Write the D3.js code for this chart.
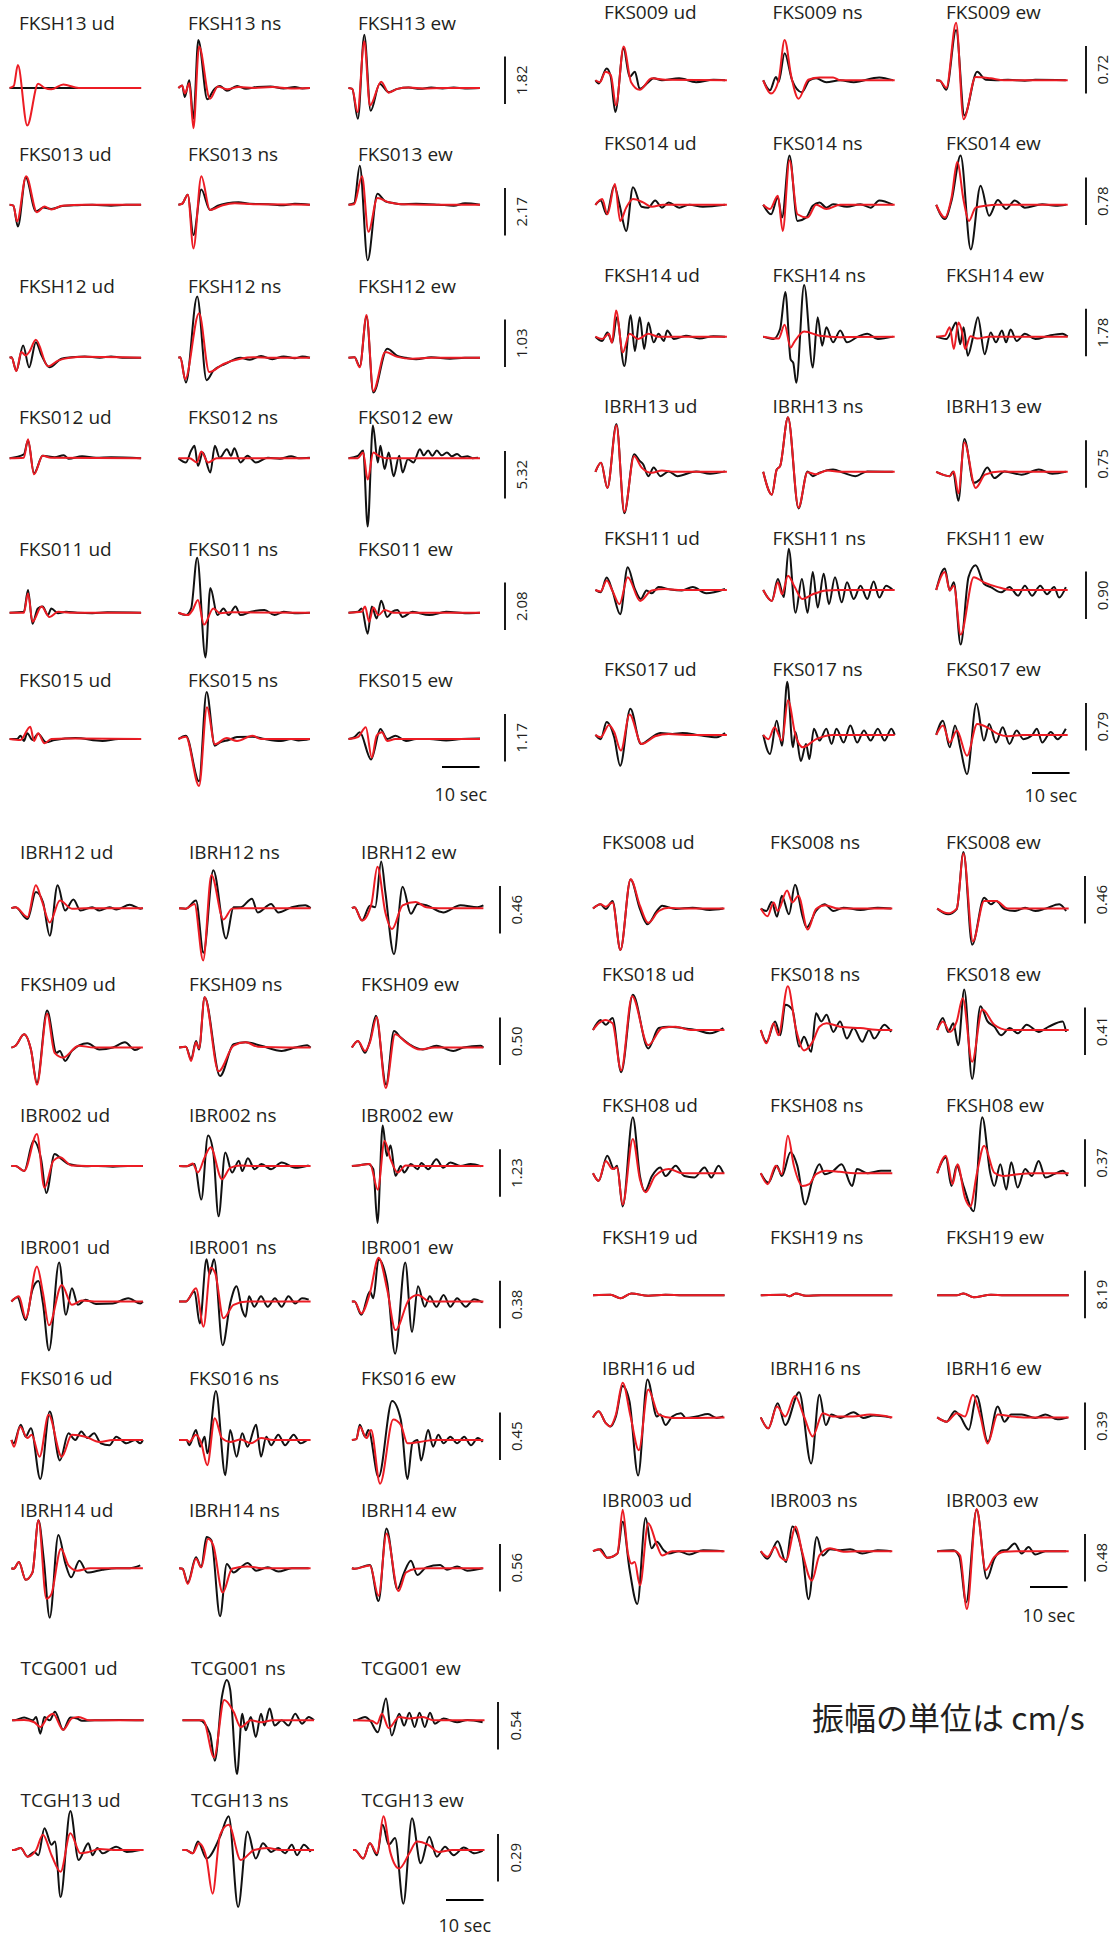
<!DOCTYPE html>
<html><head><meta charset="utf-8">
<script src="https://cdn.jsdelivr.net/npm/d3@7"></script>
<style>body{margin:0;background:#fff}svg{display:block}</style>
</head><body>
<svg id="chart" width="1117" height="1936"></svg>
<script>
// ---- data ----
const components = ["ud", "ns", "ew"];
const stations = ["FKSH13","FKS013","FKSH12","FKS012","FKS011","FKS015",
  "IBRH12","FKSH09","IBR002","IBR001","FKS016","IBRH14",
  "TCG001","TCGH13",
  "FKS009","FKS014","FKSH14","IBRH13","FKSH11","FKS017",
  "FKS008","FKS018","FKSH08","FKSH19","IBRH16","IBR003"];
// amplitude of the vertical scale bar for each station (cm/s)
const amplitudes = [1.82,2.17,1.03,5.32,2.08,1.17,
  0.46,0.50,1.23,0.38,0.45,0.56,
  0.54,0.29,
  0.72,0.78,1.78,0.75,0.90,0.79,
  0.46,0.41,0.37,8.19,0.39,0.48];
const timeBarSec = 10;
const traceSec = 35;
// waveforms: flat [t (s), v (tenths of the scale-bar amplitude), ...], per station [ud, ns, ew]
const observed = [
 [[0,0,35,0],
  [0,0,1,0.5,1.7,-1.9,2.9,1.6,4,-6.5,5.3,10.1,7.7,-2.4,9.5,-0.3,11.1,0.4,12.9,-0.6,15.6,0.4,18,-0.2,21,0.2,24.5,0.3,28,-0.1,31,0.2,33,-0.1,35,0],
  [0,0,1,-0.2,2.5,-6.5,4.2,11.2,5.9,-4.8,8.3,0.9,10.7,-0.9,13,-0.2,16,0.1,19,-0.2,22,0.1,25,-0.1,28,0.1,31,-0.1,35,0]],
 [[0,0,1,-0.2,2.2,-4.6,4.3,5.7,7,-1.4,9,-0.6,11.1,-0.9,14,-0.3,18,-0.1,22,0,27,-0.2,31,0,35,0],
  [0,0,1,0.2,2.5,2.1,4,-6.4,6.1,3.2,8.4,-1.1,10.5,-0.2,13,0.3,16,0.5,19,0.2,24,0.1,28,-0.1,31,0.2,35,0],
  [0,0,1.5,0.3,3,8.2,5.1,-11.7,7.7,2.3,9.8,0.7,11.6,0.4,14,0.1,18,0.2,24,0,28,-0.2,31,0.3,35,0]],
 [[0,0,0.5,0.1,1.8,-2.7,3.6,2.6,5.2,-2,7,3.3,8.5,0.5,10.6,-2,13.8,-0.2,16.5,0.1,20,0.3,24,0,27,0.3,30,0,35,0],
  [0,0,0.5,0.1,2,-5.2,5,12.9,7.5,-4.7,9.3,-2.7,12.5,-1.3,16.5,0,19,-0.4,22,0.4,25,-0.3,28,0.3,31,-0.1,33,0.3,35,0],
  [0,0,1.6,0.1,3,-1.8,4.8,8.7,6.6,-7.3,10.3,1.9,13,0.4,15.3,0,18,-0.3,22,0.1,27,-0.2,31,0,35,0]],
 [[0,0,3.8,0.8,4.9,3.7,6.5,-3.2,8.8,0.5,12,0.2,14.4,0.6,15.7,-0.1,19.3,0.4,23,0.1,27,0.2,35,0],
  [0,0,2,-0.9,3.4,1.6,4.3,2.6,5.2,-1.6,6.5,1.2,8.5,-3,9.7,2.6,11,0.1,12.9,1.9,14,0.5,14.9,2.1,16.5,-0.9,18.4,0.5,20.6,-0.9,23.8,0.1,27,-0.1,30,0.4,32,0,35,0.1],
  [0,0,2.5,0.5,3.9,1.6,5.1,-14.4,6.5,6.9,7.8,-0.9,8.5,2.6,9.6,-2.3,10.7,1.2,12,-3.8,13.5,0.5,14.4,-3,15.8,-0.2,17.3,-0.9,19,1.9,20,0.6,21.2,1.6,22.3,0.5,23.5,1.6,24.8,0.6,26.2,1.2,27.5,0.4,28.9,0.9,30.2,0.2,31.6,0.4,33,0,34.5,0.1]],
 [[0,0,3.8,0.2,4.9,4.8,6.1,-2.3,7.5,0.9,8.8,1.3,10.2,-0.5,11.1,0.9,12.9,-0.1,15,0.2,18,0,22,-0.1,26,0.1,35,0],
  [0,0,2,-0.5,3.4,0.9,5,11.6,7.2,-9.4,8.5,5.2,10.4,-0.5,12,0.9,13.4,-0.5,15.2,1.3,16.5,-0.5,19.3,0.2,22.9,0.6,25.6,-0.5,28,0.2,31,-0.1,35,0],
  [0,0,2.5,0.2,3.5,0.9,5.1,-4.4,6.2,1.3,7.5,-1.2,8.7,2.5,10.3,-0.9,11.6,0.2,13,0.6,14.4,-0.9,17,0.2,21.5,-0.5,26,0.2,31.5,-0.1,35,0]],
 [[0,0,2,0,2.9,0.7,3.8,-0.4,4.7,1.2,6.1,-0.2,7.6,1.1,9.7,-0.7,12,-0.2,17.5,0.2,24.7,-0.4,29,0,35,0],
  [0,0,2,0.7,5.5,-8.9,7.5,9.9,9.7,-1.4,11.1,-0.7,13.4,-0.2,15.6,0.4,19.7,0.5,23,0,27.3,-0.4,30,0,32,-0.3,35,0],
  [0,0,1.6,0.4,3,1.4,6,-4.3,8.5,2.1,10.3,0,12.5,0.7,15.3,-0.4,18,0,21.6,0,26,-0.3,30,0,35,0.1]],
 [[0,0,1.1,0.2,4.3,-2.3,6.5,3.4,8.4,1.3,10.2,-5.8,12.3,4.8,14.3,-0.5,16.5,1.8,18.4,-0.5,21.5,0.2,23.4,-0.5,26.1,0.2,28,-0.3,31.5,0.7,34.3,-0.1,35,0],
  [0,0,1.8,-0.1,4.5,1.6,6.5,-9.4,9.1,8,12.5,-6.4,14.5,0.2,16.4,0.2,19.4,2,20.9,-0.9,24.5,0.9,26.4,-0.9,30,0.2,33.6,0.6,35,0],
  [0,0,0.7,0.2,2.7,-2.6,4.8,0.5,6.2,0.2,7.8,9.8,8.9,3.4,11.2,-9.7,13.5,4.5,15.7,-1.2,17.5,0.9,19.8,0.6,24.3,-0.9,28.9,0.6,33.4,0.2,35,0.6]],
 [[0,0,1.1,0.4,3.4,2.8,5.2,-0.4,6.8,-7.4,9.5,7.8,12,-1.1,12.9,-0.7,14.3,-2.8,16.1,-0.7,20.2,0.9,23.4,-0.4,27,0,30.2,1.1,32.9,-0.5,34.3,0],
  [0,0,1.8,0.2,3.2,-2.5,4.5,1.4,5.3,-0.4,6.8,10.6,10.9,-6,14.5,0.7,17.7,1.1,21.8,0.4,27.3,-0.7,30.9,0,34.1,0.5,35,0],
  [0,0,1.6,1.4,3.5,-1.1,4.8,1.4,6.4,6.7,9.1,-7.8,11.2,3.5,13,2.1,15.3,0.7,18.9,-0.4,22.5,0.4,27,-0.7,29.7,0,34.3,0.4,35,0]],
 [[0,0,1.1,0,3.4,-1.1,5.9,5.3,7.9,1.4,9.3,-5.7,11.5,2.5,13.4,1.4,15.2,0.4,19.7,-0.1,23,0,27,-0.2,31,0,35,0],
  [0,0,2,-0.1,4.1,0.4,5.9,-7.1,7.7,6.4,9.1,2.8,10.5,-10.6,12.3,2.8,14.1,-1.4,15.9,1.1,16.8,-1.1,18.3,1.6,20.1,-0.7,21.9,0.4,24.5,-0.7,27.3,0.7,30.9,-0.4,34.5,0.1],
  [0,0,1.6,0.1,4.3,0.4,5.7,-0.7,6.8,-12,8.2,8.5,9.3,2.1,10.3,4.3,11.6,-2.1,13,0,13.9,-1.4,15.7,0.4,17.5,-0.7,18.5,0.6,20.3,-0.7,22.5,1.4,24.3,-0.4,26.2,0.7,28.9,0,31.6,0.4,34.4,-0.1]],
 [[0,0,1.6,0.9,3.8,-3.9,5.6,2.5,7.2,4.3,8.4,-0.4,10,-10.3,12.7,8.2,14.5,-2.8,16.1,2.8,17.7,-0.7,19.7,0.4,22.5,-0.5,27,-0.4,31.1,0.7,34.3,-0.4,35,0],
  [0,0,1.8,0,4.1,2.1,5.5,-4.6,7.3,8.9,8.1,5.7,9.3,8.9,11.6,-9.2,13.6,-0.4,15.3,3.2,16.8,-1.8,17.7,-3.2,18.6,1.1,20,-1.1,21.8,1.1,23.6,-1.1,25.5,0.7,27.3,-1.1,29.1,1.1,30.9,-0.4,32.7,0.7,34.5,0.4],
  [0,0,0.7,0,2.5,-2.8,4.8,2.1,5.7,0.7,7.1,8.9,9.4,3.9,11.5,-11,14.2,8.2,16,-6.4,17.6,3.2,19.4,-1.1,20.7,1.1,22.5,-1.1,24.4,1.4,26.2,-1.1,28,0.7,30.3,-1.1,32.5,0.5,34.8,-0.2]],
 [[0,0,0.6,-0.7,2.5,3.2,3.8,0.7,5.2,2.5,7.7,-8.2,10.2,6,12.9,-4.3,15.2,1.4,17,0,18.6,1.8,20.2,0.4,22,1.4,23.8,-0.7,26.1,-1.1,27.9,0.7,30.6,-0.7,32.9,0,34.3,-0.7,35,0],
  [0,0,2,0,2.7,-1.1,4.5,2.1,5.6,-1.4,6.8,0.7,7.5,-2.8,9.8,10.3,12.3,-7.4,13.6,2.1,15.3,-3.5,16.8,1.4,18.2,-1.4,20.5,3.2,21.8,-3.5,23.2,0.7,24.5,-1.1,26.4,1.1,28.2,-1.1,30.5,1.1,32.3,-0.7,34.1,0],
  [0,0,1.2,0.2,2.1,3.2,3.5,0.7,4.4,2.1,7.1,-7.8,10.7,8.2,13,4.3,14.8,-8.2,16.1,-0.7,17.5,0,18.4,-4.3,20.3,2.1,21.6,-1.4,23,1.1,24.4,-0.7,26.2,0.7,28,-0.7,29.9,0.7,31.7,-1.1,33.5,0.4,34.8,-0.4]],
 [[0,0,0.6,-0.1,2,1.3,3.8,-2.4,5.6,-0.9,7.2,10.1,8.6,2,10.2,-10.4,12.5,7,14.4,0.9,15.9,-1.9,18.1,1.6,20.2,-0.9,24.3,-0.3,28,0,31.5,0,34.3,0.6],
  [0,0,0.9,-0.1,2.3,-3,4.5,2.3,5.9,0.2,7.3,6.6,8.6,5.9,10.9,-10.1,12.7,0.9,14.5,-0.9,16.4,0.2,18.2,1.1,20.5,-0.5,23.6,0.2,26.4,-0.7,30,0,34.5,0],
  [0,0,0.7,-0.1,4.8,0.7,7.1,-6.9,9.2,8.4,12.1,-4.4,13.9,-0.9,15.7,1.6,17.4,-1.4,19.8,0.2,23.5,0.7,25.3,-0.3,28,0.4,30.7,-0.5,34.8,0]],
 [[0,0,0.5,0,3.2,0.6,5.5,0,6.4,0.7,7.5,-2.8,8.6,0.7,10,0,11.4,1.8,13.6,-2,15.5,0.6,17.3,0.4,18.6,-0.1,22,0,28.6,0.1,35,0],
  [0,0,1,0,4.5,0,7.3,-2.8,8.6,-8.5,10.5,5,11.8,8.5,12.7,6.4,14.5,-11.3,15.9,1.4,16.8,-2.1,18.2,0.7,19.5,-3.5,20.9,1.4,21.8,-1.1,23.2,2.5,24.5,-1.1,26.4,0,28.2,-1.1,30,1.4,31.8,-0.7,33.6,0.7,35,0],
  [0,0,0.5,0,3.2,0.7,4.5,0,6.6,-2.5,8.8,4.6,10.3,-3.2,12.3,1.4,13.6,-1.1,15,1.6,16.4,-1.4,17.7,1.6,19.1,-1.4,20.5,1.6,21.8,-0.7,24.1,0.4,27.7,-0.4,30.5,0.1,34.5,-0.4]],
 [[0,0,0.5,0,2.3,0.4,4.1,-1.4,5.9,-0.4,7,-1.1,8.6,4.6,10.5,1.1,11.4,1.8,12.9,-9.9,15.5,8.2,17.7,-2.1,20.3,1.4,21.4,-1.1,22.7,0.4,24.1,-0.7,27.7,0.7,30.5,-0.4,34.1,0],
  [0,0,0.9,0,2.7,-0.7,4.1,1.8,6.4,-1.8,10,2.8,12.3,7.1,14.8,-12,17.3,3.9,19.5,-1.8,21.4,1.4,23.6,-0.4,25.5,0.4,27.3,-0.7,29.1,1.1,30.5,-1.1,32.3,1.1,34.1,-0.4],
  [0,0,0.5,0,2.7,-1.8,4.5,1.4,6.4,-1.1,7.9,5.3,9.5,1.1,11.2,2.5,13.4,-11.3,15.7,6.7,18,-2.8,20.3,2.8,22.3,-1.4,24.5,0.7,26.8,-1.1,29.5,0.5,32.3,-0.7,34.5,-0.2]],
 [[0,0,0.9,-0.7,3,2.5,4.1,0.7,5.3,-6.7,7.5,6.7,9.1,0.7,10.5,1.8,11.8,-1.8,14.1,-0.4,15.5,0.4,17.7,0,22.3,0.4,26.8,-0.4,31.4,0.1,34.5,0],
  [0,0,1.8,-2.1,3.4,0.7,4.1,-0.4,5.7,5.7,7.7,0,10.3,-2.5,12.3,0,14.1,0.4,16.8,-0.4,20.5,0,24.1,-0.4,30.9,0.6,34.5,0],
  [0,0,1,-0.1,2.7,-2,5.3,10.6,7.5,-7.4,10.9,1.8,13.2,0.1,15.9,0,19.1,0.1,23.6,-0.1,26.4,0.1,34.5,0]],
 [[0,0,1.4,0.9,3,-2,5,4,6.4,0.1,8.2,-5.5,10,3.7,12.3,-0.4,14.1,-0.6,15.9,0.9,17.7,-0.6,19.5,0.5,22.3,-0.6,25,0,28.6,-0.4,34.5,0],
  [0,0,2.1,-2,3.9,1.6,5,-2.7,7,10.4,9.1,-3.4,11.4,-2.7,13.2,-0.2,15,0.5,16.8,-0.6,18.6,0.1,22.3,-0.4,25.9,0.1,28.6,-0.6,30.9,0.9,34.5,0],
  [0,0,2.3,-3,4.1,0.9,6.5,10.4,9.2,-9.4,11.8,4,14.1,-2.3,16.4,1,18.6,-0.9,20.9,0.9,23.6,-0.6,28.2,0.1,31.8,-0.2,34.5,0]],
 [[0,0,1.8,-0.9,3.2,0.9,4.5,-1.2,5.7,4.1,7.7,-6.2,9.4,4.5,10.5,-3,11.8,4.1,13,-2.6,14.1,3,15.5,-1.2,16.8,0.6,18.2,-0.9,19.1,1.3,20.9,-0.5,24.1,0.2,27.7,-0.4,31.4,0.1,34.5,0],
  [0,0,2.7,-0.5,4.5,1.6,5.9,9.4,7.3,-4.8,8,-5.5,8.8,-9.7,10.9,10.9,13.2,-6.5,14.5,4.1,15.7,-1.9,16.8,2,18.6,-1.2,20.5,1.3,22.3,-1.2,25,-0.1,27.7,0.6,30.5,-0.5,34.5,0],
  [0,0,2.7,-0.5,4.1,1.3,5.3,3,6.4,-1.6,7.3,2,8.4,-4,9.8,-0.1,11.1,4.1,12.9,-3.7,14.5,0.9,15.9,-1.2,17.5,1.3,18.6,-1.2,19.8,1.5,21.4,-0.9,23.6,0.6,26.4,-0.5,30,0.2,33.6,0.6,35,0]],
 [[0,0,1.5,1.9,3.2,-3.4,5.6,10.1,7.7,-8.7,10.3,3.7,11.8,2.3,12.7,1.6,14.1,-0.9,15.5,0.9,17.3,-0.9,19.5,0.1,21.8,-0.9,26.8,0.1,30.5,-0.4,34.5,0.1],
  [0,0,2.3,-4.8,3.6,0.5,4.5,1.2,6.6,11.5,9.4,-7.7,11.8,0.1,13.2,-0.9,15,-0.2,18.6,0.5,21.4,-0.2,24.5,-0.9,27.7,0.1,34.5,0],
  [0,0,3.6,-0.9,4.5,0.1,5.9,-6.1,7.5,6.9,10,-2.3,11.6,-1.6,13.6,0.9,15.5,-1.3,18.2,0.1,22.7,-0.6,27.3,0.5,30.9,-0.4,34.5,0]],
 [[0,0,1.4,-0.5,3,2.6,4.5,-0.1,6.6,-5.1,8.6,4.8,10.5,0.2,12.1,-1.9,13.6,-0.1,15,-0.7,16.8,0.6,20,0.1,23,-0.1,25.9,0.6,29.5,-0.7,34.5,0.2],
  [0,0,2.3,-2.3,3.9,2.3,5.5,-1.5,6.8,8.7,8.6,-4.8,10.3,2.3,11.8,-4.8,13.2,3.8,14.5,-3.7,16.1,3.4,17.5,-3,19.1,2.7,20.9,-2.6,22.3,1.6,24.1,-1.9,25.9,0.9,27.7,-1.9,29.4,1.8,30.9,-1.6,32.7,0.9,34.5,0],
  [0,0,2.3,4.5,3.6,-0.1,4.7,1.6,6.5,-11.5,8.6,2.7,10.5,5.2,12.7,1.3,14.5,0.6,17.3,-0.5,19.5,0.6,21.8,-1.2,23.6,0.9,25.5,-1.2,27.7,0.9,29.5,-0.9,31.4,0.6,32.7,-1.6,34.5,0.6]],
 [[0,0,1.4,-0.9,3,2.7,5,-0.5,6.6,-6.5,9.3,5.5,12.1,-1.9,15,-0.5,17.3,0.4,20.5,0.2,23.2,0.4,27.7,-0.1,32.3,-0.5,34.5,0.4],
  [0,0,1.8,-4,3.6,3,5,-2.3,6.4,11.2,7.9,-2.6,8.6,0.6,10,-5.5,11.4,-1.9,12.3,-5.1,13.5,1.3,15,-1.2,16.8,1.3,18.2,-1.9,19.5,1.3,21.4,-1.6,23.2,2,25,-1.6,26.8,0.9,28.6,-1.2,30.5,1.3,32.3,-1.2,34.1,1.3,35,0],
  [0,0,1.8,3,3.6,-2.6,5,2,6.5,-3,8.2,-8.3,10.7,6.6,12.7,-1.2,14.1,2.3,15.9,-1.6,17.7,1.6,19.5,-1.9,21.4,0.9,23.2,-0.9,25.5,-0.1,26.8,1.3,28.2,-1.6,30.5,0.6,32.3,-0.9,34.5,1.3]],
 [[0,0,2,0.9,3.4,-0.1,5.2,1.6,7.3,-8.7,10,6.1,12.5,-0.1,14.5,-3.3,17,-0.5,18.4,0.6,22,-0.1,26.5,0.2,31.1,-0.3,34.7,0],
  [0,0,1.5,-0.5,2.9,1.4,4.3,-1.7,5.6,2.7,7.5,-1.2,9.1,5,11.1,-1.6,12.2,-4,14.7,-0.5,17,0.9,19.3,-0.5,22,0.2,26.5,-0.3,31.1,0.2,34.7,0],
  [0,0,2.9,-1.2,5.2,-0.1,7,11.9,9.3,-7.6,12.5,2.3,14.3,0.9,15.7,1.6,17.9,-0.1,20.7,-0.5,23.4,0.2,26.1,-0.5,28.8,0,32.5,0.9,34.3,-0.5]],
 [[0,0,2,2.1,3.4,1.1,5.2,2.5,7.5,-8.9,10.6,7.4,14.7,-3.9,17.5,0.4,20.2,0.7,23.8,0.4,27.5,0,31.1,-0.7,34.7,0.4],
  [0,0,1.5,-2.5,3.8,1.8,5.2,-1.1,6.5,5.3,8.4,4.3,10.2,-3.5,11.5,-1.4,13.4,-4.6,14.7,3.5,16.1,1.8,17.5,3.2,19.3,-0.4,21.1,1.8,22.9,-1.8,24.7,0.4,27,-2.5,28.8,0,30.2,-1.8,32.9,1.1,34.7,-0.4],
  [0,0,1.5,2.5,2.9,-0.4,4.3,1.4,5.6,-3.2,7.2,8.5,9.3,-10.3,11.5,5,13.4,1.8,15.2,0.7,17,-1.1,19.3,0.4,21.5,-0.7,23.8,1.1,27,-0.4,29.7,0.7,33.4,1.8,34.3,-0.4]],
 [[0,0,1.5,-1.6,3.8,3.7,5.6,0.9,6.4,1.6,7.9,-7,10.6,11.8,12.5,-0.6,13.8,-3.8,15.7,-0.6,17.9,1.2,19.3,-0.6,22,1.6,24.3,-0.6,27,-0.9,29.7,1.2,31.5,-0.9,33.4,1.6,34.7,0],
  [0,0,2,-2,4.3,1.6,5.6,-0.6,7.9,4.4,9.7,1.6,11.8,-6.6,13.8,-1.3,15.6,1.9,17,-0.2,19.3,0.5,21.5,1.9,24.3,-2.7,25.6,0.9,28.4,0,32,0.5,34.7,0.5],
  [0,0,2.3,3.3,3.8,-2.7,5.2,1.6,7,-2.7,9.7,-8,12,11.8,14.1,0.1,15.2,-2.7,16.8,1.9,18.4,-3.4,19.7,2.3,21.4,-3,23.4,0.9,25.2,-0.6,27,2.6,28.8,-0.9,31.1,-0.2,33.4,0.5,34.7,-0.6]],
 [[0,0,4.7,0.1,7.3,-0.6,10.2,0.4,14.7,-0.1,19.3,0.1,24,0,35,0],
  [0,0,6.5,0.1,7.6,-0.2,9.3,0.4,12,-0.1,16,0,35,0],
  [0,0,5.2,0,7,0.4,9.7,-0.4,14.3,0.1,18,0,35,0]],
 [[0,0,1.5,1.3,3.4,-1.2,4.7,-1.9,6.1,0.2,7.9,6.6,9.7,3.4,12,-12.2,14.5,8,17,0.2,17.9,0.6,19.3,-1.6,21.1,0.2,23.4,0.9,24.7,-0.1,27.5,0.2,30.6,0.7,32.9,-0.1,34.7,0.2],
  [0,0,2,-2.3,4.5,3,6.5,-1.6,10.2,5.3,13.4,-9.7,15.6,4.8,17.3,-1.6,18.8,0.6,21.1,-0.1,24.7,1.1,27.3,-0.1,30,0.4,34.7,0],
  [0,0,2.5,-0.9,4.7,1.3,6.1,0.2,8.4,-2.6,10.5,4.5,13.5,-5.1,16.1,2.3,17.9,-0.9,19.7,0.6,22.5,0.6,26.1,-0.1,28.8,0.6,32,-0.4,34.7,0]],
 [[0,0,2,0.4,3.8,-1.4,6.5,-0.5,7.9,6.2,9.7,-3.7,11.8,-11.1,14,7,15.6,0.6,17,2,18.8,0.2,20.2,-0.5,22.9,0,25.6,-0.7,29.3,0.2,34.7,0],
  [0,0,1.8,-1.6,4.5,2.1,6.7,-2.3,8.4,5.2,9.8,3.4,11.1,-0.9,12.7,-10.1,14.9,3,16.5,-0.9,18.4,0.4,21.1,0.2,23.8,0.4,27,-0.5,31.1,0.2,34.7,0],
  [0,0,4.3,0.2,5.9,-1.2,7.7,-10.8,10.5,8.7,13.2,-5.8,15.2,-1.6,17.5,0.2,18.4,0.2,20.6,1.6,22.5,-0.5,24.3,0.9,26.1,-0.7,28.8,0,34.3,0]]
];
const synthetic = [
 [[0,0,1.1,0.4,2.2,4.8,4.7,-7.9,7.6,0.9,9.3,0,11.1,-0.3,14.3,0.7,18.4,0,35,0],
  [0,0,1,0.5,1.7,-1.2,2.9,1,4,-8.5,5.5,8.7,8.4,-2.3,10.5,0.3,13,-0.3,16,0.2,20,0,25,0.2,30,-0.1,35,0],
  [0,0,1,-0.2,2.4,-5.1,4.2,9.8,5.7,-3.7,8.7,1.3,10.7,-1,13,-0.2,16,0.1,20,-0.1,25,0,35,0]],
 [[0,0,1,-0.2,2,-3.5,4.4,6,7.3,-1.6,9.3,-0.4,11.1,-1,14,-0.2,20,0,35,0],
  [0,0,1,0.2,2.5,2.1,4,-9.2,6.1,6,8.4,-1.1,11.8,-0.1,15,0.3,20,0.1,35,0],
  [0,0,1.5,0.1,3.6,6,5.3,-5.7,7.7,1.4,10.7,0.5,14,0.1,20,0,35,0]],
 [[0,0,0.5,0.1,1.8,-2.8,3.1,1.2,4.3,0.5,5.2,1.2,7,3.8,10.2,-1.8,12.9,-0.6,16,0,20,0.2,35,0],
  [0,0,0.5,0.1,1.8,-4.5,5.5,9.4,8.2,-3,12,-1.3,16.5,-0.2,20,0.1,25,0,35,0],
  [0,0,1.6,0.1,3,-2,4.8,9,6.6,-7,9.8,1.2,13,0.2,17,-0.2,22,0,35,0]],
 [[0,0,3.8,0.1,4.9,4,6.5,-3.4,8.8,0.5,11,0.1,35,0],
  [0,0,3,0,4.9,-0.9,6.1,1.4,7.9,-0.9,10.2,0,35,0],
  [0,0,2.5,0,3.9,1.2,5.1,-4.5,6.6,1.2,8,0.5,10,0,35,0]],
 [[0,0,3.8,0,4.9,4.1,6.1,-1.9,8.5,1.3,10.6,-0.9,12.9,0.2,16,0,35,0],
  [0,0,2.5,-0.5,3.8,0.6,5.2,2.7,6.8,-2.5,9.3,0.9,11.1,-0.1,14,0.1,35,0],
  [0,0,3.5,0.2,4.4,1.3,5.5,-1.9,6.6,1.1,8,-0.5,9.6,0.6,12,0,35,0]],
 [[0,0,2.9,-0.2,5.5,2.6,6.5,-0.4,7.6,1.2,9.3,-0.9,11.1,0,15,0.1,35,0],
  [0,0,2,0.5,5.5,-9.9,7.6,6.7,9.7,-1.1,12.9,0.2,15.6,-0.4,19.7,0.7,22,0,35,0],
  [0,0,2.5,0.4,4.6,2.5,6.2,-3.9,7.5,0.7,8.9,1.4,10.3,-0.4,12.5,0,35,0]],
 [[0,0,1.1,0.2,4.3,-1.9,6.5,4.8,8.1,1.6,10.2,-3,12.9,1.6,16.1,-0.1,19.7,0,35,0],
  [0,0,1.8,-0.1,4.1,0.9,6.4,-11,8.6,7,11.8,-2.4,14.1,-0.1,16.4,0,35,0],
  [0,0,0.7,0.2,2.7,-2.6,5.2,0.9,6.8,8.7,8.9,-0.9,10.7,-4.4,13.5,0.6,17,1.3,19.8,0.2,23,0,35,0]],
 [[0,0,1.1,0.4,3.4,2.8,5.2,-0.4,6.8,-7.8,9.5,7.1,11.5,-1.1,13.8,-2.1,17.9,0.4,22,0,35,0],
  [0,0,1.8,0.2,3.2,-2.8,4.5,1.1,5.3,-0.2,6.8,10.6,10.5,-5,14.5,0.4,17.7,1.1,21,0.2,35,0],
  [0,0,1.6,1.4,3.5,-0.7,4.8,1.1,6.6,6.4,9,-8.5,11.5,2.8,14.4,1.1,18,-0.4,22,0,35,0]],
 [[0,0,1.1,0,3.4,-1.1,6.8,6.7,8.8,-4.6,11.2,1.1,12.9,1.8,16,0.1,20,0,35,0],
  [0,0,2,-0.1,3.6,0.5,5,-1.4,6.8,1.8,8.4,3.9,11.4,-2.8,13.6,-0.4,16.4,0.1,20,0,35,0],
  [0,0,1.6,0.1,4.8,0.4,6.9,-5,8.7,5.3,10.3,1.4,12.2,-1.4,14.3,0.1,18,0,35,0]],
 [[0,0,2,1.1,3.8,-3.5,6.8,7.4,8.4,1.8,10,-5,13.4,3.5,16.1,-0.7,18.8,0.2,22,0,35,0],
  [0,0,1.8,0,4.5,2.8,6.5,-5.3,8.4,7.1,9.6,6,11.8,-3.5,14.5,-0.7,18.2,0,35,0],
  [0,0,0.7,0,2.5,-2.5,4.8,1.8,7.1,9.2,9.4,2.5,11.6,-6,15.2,0.4,17.6,1.4,20.7,0,24,0,35,0]],
 [[0,0,0.7,-1.4,2.3,2.8,4.3,0.4,5.4,1.1,7.5,-3.5,9.9,5.3,13.4,-3.5,16.1,1.1,19.7,0.7,23.4,-0.4,27,0,35,0],
  [0,0,2,0,2.7,-0.4,4.5,1.1,5.9,-0.7,7.5,-5.3,9.5,4.6,11.4,0.4,13.6,-0.4,16.4,0.1,19.1,-0.7,21.8,0.4,25,0,35,0],
  [0,0,1.2,0.2,2.1,2.8,3.9,0.4,5.1,2.1,7.5,-9.2,11,4.3,13,3.2,14.8,-0.7,18,-0.4,22,0,35,0]],
 [[0,0,0.6,-0.1,2,1.3,3.8,-2.4,5.6,-0.9,7.2,10.1,9.3,-6.4,10.6,-5.5,13.2,4.1,15.2,0.6,17.5,-0.5,21,0,35,0],
  [0,0,0.9,-0.1,2.3,-3.3,4.5,2,5.9,0.2,7.7,6.2,9.1,4.8,11.6,-5.1,14.1,-0.1,18.2,0.4,22,0,35,0],
  [0,0,0.7,-0.1,4.8,0.6,7.1,-5.8,9.2,7.3,12.4,-4.8,14.4,-0.9,17.1,-0.1,20,0,35,0]],
 [[0,0,3.2,0.1,5.9,-0.4,7.5,-1.4,9.5,0.7,10.9,1.4,13.6,-2,15.9,0.4,17.7,0.7,20.5,0,35,0],
  [0,0,1,0,5.5,0,8.4,-7.8,11.1,4.3,13.6,1.8,15.5,-1.4,18.2,0,20.9,-0.4,24,0,35,0],
  [0,0,5,-0.1,6.4,-0.7,7.7,1.4,9.5,-1.6,12.3,0.7,15,0.4,18.6,0.7,21.4,0,35,0]],
 [[0,0,0.5,0,2.3,0.4,4.1,-1.4,6.4,0,8.2,3.2,10.5,-1.1,12.9,-4.6,15.5,3.5,18.2,-0.7,20.5,-0.4,23.2,0.2,27,0,35,0],
  [0,0,0.9,0,2.7,-0.7,4.4,1.4,6.4,-1.8,8,-9.2,10,3.2,12.3,5.3,15.5,-2.1,19.1,0,22.7,0.4,26,0,35,0],
  [0,0,0.5,0,2.7,-1.8,4.5,1.4,6.4,-0.7,8.1,7.1,9.9,-0.4,12.3,-3.9,15,-0.7,17,1.8,20,1.1,22.7,-0.4,26.4,0,35,0]],
 [[0,0,1.2,-0.4,2.7,1.8,4.1,1.1,5.5,-5.3,7.5,7.1,9.5,-0.4,11.8,-2,15,0.4,18.6,0.1,35,0],
  [0,0,2.1,-2.8,4.1,0,5.7,8.5,7.5,0.7,9.4,-3.9,12,0.1,15,0.6,18.6,0.6,20.5,0,35,0],
  [0,0,1,-0.1,2.7,-1.6,5.3,12.1,7.3,-8.2,10.5,0.7,14.5,0.4,18,0,35,0]],
 [[0,0,1.8,1.2,3.2,-2,5.2,4.4,6.6,-3.4,8.2,-0.6,10,1.2,12.7,0.5,15,-0.4,18,0,35,0],
  [0,0,1.8,-0.9,3.9,1.9,5.2,-5.5,7,9.4,9.1,-2,11.8,-2.7,14.1,0,16.8,-0.9,20.5,0,35,0],
  [0,0,2.3,-2.7,4.1,1.6,5.6,9,7.3,0.9,8.7,-3.4,10.5,-0.6,13.2,-0.2,16,0,35,0]],
 [[0,0,1.8,-0.5,3.6,0.6,4.4,-1.3,5.5,5.5,7.3,-3.3,9.1,0.6,11.4,-0.5,14.1,0.6,16.8,0,35,0],
  [0,0,4.1,-0.4,5.7,2.5,7.3,-2.3,8.2,-1.2,10.9,1.1,15,0.2,20.5,-0.1,35,0],
  [0,0,2.3,0.2,3.6,2,4.7,-2.6,5.9,3,6.8,1.3,7.7,-2.6,9.1,0.1,10.9,-0.4,14,0,35,0]],
 [[0,0,1.5,1.9,3.2,-3.4,5.6,9.8,7.7,-8.4,10.3,3.3,12.3,0.9,15,-0.2,17.7,0.3,21,0,35,0],
  [0,0,2.3,-4.8,3.6,0.5,4.5,1.2,6.6,11.5,9.4,-7.5,11.8,-0.1,14,-0.5,17,0.3,21,0,35,0],
  [0,0,3.6,-0.9,4.7,0.1,5.9,-4.5,7.5,6.2,10.5,-3.4,13,-0.6,17,0.1,20,0,35,0]],
 [[0,0,1.4,-0.3,3,2,4.5,-0.1,6.4,-3,8.6,2.7,11.9,-2.3,15,-0.1,18.6,0.2,22,0,35,0],
  [0,0,2.3,-2.3,3.9,1.6,5,-0.9,6.6,3,8.4,0.6,10.4,-1.9,13.2,-0.9,16.8,-0.1,20,0,35,0],
  [0,0,2.3,3.8,3.6,-0.1,4.7,0.9,6.5,-9.4,10,2.7,12.7,1.6,16.4,0.6,20,0,35,0]],
 [[0,0,1.4,-0.5,3.6,2.1,5,0.6,6.8,-3.3,9.1,4.3,12.3,-1.9,15.9,-0.3,19.5,0.2,24,0,35,0],
  [0,0,1.4,-0.9,3,1.6,5,-1.2,6.6,7.3,8.6,-0.1,10.5,-2.6,14.1,-0.9,18.6,0,35,0],
  [0,0,1.8,2,3.6,-1.6,5.5,0.9,8.2,-4.4,10.9,2.3,13.6,1.6,16.4,0.2,19.1,-0.3,23,0,35,0]],
 [[0,0,2,0.9,3.4,0.4,5.2,1.3,7.3,-8.7,10,6.2,12.5,0.6,14.7,-3,17.5,-0.5,20.2,0.2,24,0,35,0],
  [0,0,1.8,-1.6,3.4,1.3,4.5,-0.5,7,3.8,8.4,1.3,10,2.7,12.5,-4.4,14.7,-0.1,17.1,0.7,20.7,0,35,0],
  [0,0,2.9,-1,5.2,0,7,11.6,9.5,-6.9,12.5,1.6,15.7,1.6,18.8,0,22,0,35,0]],
 [[0,0,1.5,1.4,3.4,2.1,5.2,1.4,7.5,-8.5,10.4,7.1,14.7,-3.2,18.4,0.4,22,0.7,26,0,35,0],
  [0,0,1.5,-2.8,3.4,1.4,4.7,-1.1,7.2,9.2,9.3,0.4,11.5,-4.3,13.8,-2.5,15.6,0.7,17.5,1.4,21.1,0.7,26.5,0.4,32,0,35,0],
  [0,0,1.5,1.8,3.4,-0.4,5.2,1.8,6.8,6.7,9.3,-6.7,12,4.3,15.2,1.1,18.8,0,35,0]],
 [[0,0,1.5,-1.6,3.4,2.6,5.2,0.9,6.4,1.2,7.9,-6.6,10.6,7.2,12.5,-1.3,14,-4,16.5,-0.6,20.2,0.9,23.8,0,35,0],
  [0,0,1.8,-2.3,4,1.6,5.6,-0.2,7.2,7.9,8.8,1.6,11.1,-2.7,12.9,-2.3,14.7,-0.2,17.5,0.5,21,0.3,25,0,35,0],
  [0,0,2.3,3.7,4.1,-2.3,5.4,1.9,7.4,-5.2,8.8,-7,10.6,0.1,12.5,5.8,15.2,0.1,17.5,-0.6,21.5,-0.2,26,0,35,0]],
 [[0,0,4.7,0.1,7.3,-0.6,10.2,0.4,14.7,-0.1,19.3,0.1,24,0,35,0],
  [0,0,6.5,0.1,7.6,-0.2,9.3,0.4,12,-0.1,16,0,35,0],
  [0,0,5.2,0,7,0.4,9.7,-0.4,14.3,0.1,18,0,35,0]],
 [[0,0,1.5,1.3,3.4,-1.2,4.5,-1.9,6.1,0.6,7.9,7.3,10,0.2,12.2,-6.9,14.7,5.9,17.5,0.6,21.1,-0.1,25.6,-0.1,35,0],
  [0,0,2,-2.3,4.3,2.3,6.5,0.2,9.1,4.5,11.5,0.2,13.8,-4,16.5,0.9,19.1,0.2,24.5,0.2,29.1,0.6,35,0],
  [0,0,2.5,-0.9,5.2,0.9,7.4,0.2,9.5,4.8,11.5,0.2,13.4,-5.5,16.1,0.6,19.7,0.2,23,0,35,0]],
 [[0,0,1.5,0.4,3.8,-1.4,6.5,-0.5,7.9,8.7,9.3,-0.5,10.2,-2.6,11.1,-2.3,12.5,-7.2,14.7,5.9,17,1.3,18.4,-0.9,21.1,0,35,0],
  [0,0,1.8,-1.2,3.8,0.9,5.2,-1.2,6.7,-1.9,9.3,5.2,10.9,0.2,13.6,-6.2,15.6,-0.9,18.4,0.6,22,-0.1,26,0,35,0],
  [0,0,4.7,0,6.1,-0.9,7.9,-12.2,10.5,8.9,12.9,-4,15.2,-1.2,17.9,-0.1,21,0,35,0]]
];
const unitNote = "振幅の単位は cm/s";

// ---- layout (positions, not data) ----
const groups = [
  {first:0, count:6, titleY0:22.5, step:131.5, traceX:[9.6,178.4,348.5], titleX:[19,188,358], barX:505, labelX:521, timeBar:{x:442, y:767, ly:794}},
  {first:6, count:6, titleY0:852, step:131.6, traceX:[11.4,179.1,351.9], titleX:[20,189,361], barX:500, labelX:516},
  {first:12, count:2, titleY0:1668, step:132, traceX:[12.1,182.5,353], titleX:[20.5,191,361.5], barX:498, labelX:515, timeBar:{x:446, y:1900, ly:1925}},
  {first:14, count:6, titleY0:12, step:131.4, traceX:[595.4,763.2,936.2], titleX:[604,772.5,946], barX:1086, labelX:1102, timeBar:{x:1032, y:773, ly:795}},
  {first:20, count:6, titleY0:842, step:131.6, traceX:[593,760.8,937.2], titleX:[602,770,946], barX:1085, labelX:1100.5, timeBar:{x:1030, y:1587, ly:1615}}
];
const traceWidth = 131.5, barPx = 47.5;
const textColor = "#231f20", obsColor = "#111111", synColor = "#ec1c24";
const fontFam = "'Open Sans', 'Noto Sans', sans-serif";

const svg = d3.select("#chart");
const toPairs = a => d3.range(0, a.length, 2).map(i => [a[i], a[i+1]]);

groups.forEach(g => {
  for (let r = 0; r < g.count; r++) {
    const s = g.first + r;
    const amp = amplitudes[s];
    const ty = g.titleY0 + r * g.step;
    const obs = observed[s].map(toPairs), syn = synthetic[s].map(toPairs);
    const allV = obs.concat(syn).flat().map(p => p[1] / 10 * amp);   // cm/s
    const [lo, hi] = d3.extent(allV);
    const mid = (lo + hi) / 2;
    const centerY = ty + 59;
    const y = d3.scaleLinear().domain([mid, mid + amp]).range([centerY, centerY - barPx]);
    components.forEach((c, ci) => {
      const x = d3.scaleLinear().domain([0, traceSec]).range([g.traceX[ci], g.traceX[ci] + traceWidth]);
      const line = d3.line().x(p => x(p[0])).y(p => y(p[1] / 10 * amp)).curve(d3.curveMonotoneX);
      svg.append("text").attr("x", g.titleX[ci]).attr("y", ty + 7)
        .attr("font-family", fontFam).attr("font-size", 19).attr("fill", textColor)
        .text(stations[s] + " " + c);
      svg.append("path").datum(obs[ci]).attr("d", line).attr("fill", "none")
        .attr("stroke", obsColor).attr("stroke-width", 2).attr("stroke-linejoin", "round");
      svg.append("path").datum(syn[ci]).attr("d", line).attr("fill", "none")
        .attr("stroke", synColor).attr("stroke-width", 2).attr("stroke-linejoin", "round");
    });
    // amplitude scale bar
    const barTop = ty + 34, barBot = barTop + barPx;
    svg.append("line").attr("x1", g.barX).attr("x2", g.barX).attr("y1", barTop).attr("y2", barBot)
      .attr("stroke", "#000").attr("stroke-width", 1.8);
    const ly = (barTop + barBot) / 2;
    svg.append("text").attr("transform", `translate(${g.labelX},${ly}) rotate(-90)`)
      .attr("text-anchor", "middle").attr("dominant-baseline", "central")
      .attr("font-family", fontFam).attr("font-size", 15).attr("fill", textColor)
      .text(amp.toFixed(2));
  }
  if (g.timeBar) {
    const tx = d3.scaleLinear().domain([0, traceSec]).range([0, traceWidth]);
    const len = tx(timeBarSec) - tx(0);
    svg.append("line").attr("x1", g.timeBar.x).attr("x2", g.timeBar.x + len)
      .attr("y1", g.timeBar.y).attr("y2", g.timeBar.y).attr("stroke", "#000").attr("stroke-width", 1.8);
    svg.append("text").attr("x", g.timeBar.x + len / 2).attr("y", g.timeBar.ly)
      .attr("text-anchor", "middle").attr("dominant-baseline", "central")
      .attr("font-family", fontFam).attr("font-size", 18).attr("fill", textColor)
      .text(timeBarSec + " sec");
  }
});

svg.append("text").attr("x", 812).attr("y", 1730)
  .attr("font-family", "'Noto Sans CJK JP', 'Noto Sans', sans-serif").attr("font-size", 32)
  .attr("fill", textColor).text(unitNote);
</script>
</body></html>
